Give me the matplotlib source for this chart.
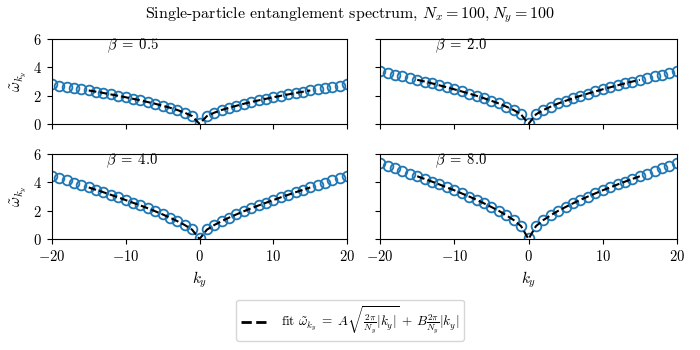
import numpy as np
import matplotlib
matplotlib.use("Agg")
import matplotlib.pyplot as plt

plt.rcParams['font.family'] = 'serif'
plt.rcParams['font.serif'] = ['cmr10']
plt.rcParams['mathtext.fontset'] = 'cm'
plt.rcParams['axes.formatter.use_mathtext'] = True
plt.rcParams['axes.unicode_minus'] = True

betas = [0.5, 2.0, 4.0, 8.0]

# spectrum values for k_y = 0..20 (symmetric in k_y)
omega_half = {
    0.5: [0.05, 0.55, 0.79, 0.98, 1.14, 1.28, 1.42, 1.54, 1.66, 1.77, 1.88,
          1.98, 2.08, 2.18, 2.27, 2.36, 2.45, 2.53, 2.62, 2.70, 2.78],
    2.0: [0.05, 0.68, 0.98, 1.22, 1.44, 1.63, 1.81, 1.98, 2.14, 2.29, 2.44,
          2.58, 2.72, 2.86, 2.99, 3.11, 3.24, 3.36, 3.48, 3.60, 3.72],
    4.0: [0.05, 0.72, 0.99, 1.26, 1.51, 1.74, 1.96, 2.17, 2.37, 2.56, 2.75,
          2.94, 3.12, 3.30, 3.47, 3.64, 3.81, 3.98, 4.15, 4.31, 4.47],
    8.0: [0.05, 0.93, 1.34, 1.68, 1.99, 2.26, 2.52, 2.77, 3.00, 3.22, 3.44,
          3.64, 3.85, 4.05, 4.24, 4.43, 4.62, 4.80, 4.98, 5.16, 5.33],
}
# fit curve values for |k_y| = 0..15
fit_half = {
    0.5: [0.0, 0.55, 0.79, 0.98, 1.14, 1.28, 1.42, 1.54, 1.66, 1.77, 1.88,
          1.98, 2.08, 2.18, 2.27, 2.36],
    2.0: [0.0, 0.67, 0.98, 1.22, 1.44, 1.63, 1.81, 1.98, 2.14, 2.29, 2.44,
          2.58, 2.72, 2.86, 2.99, 3.11],
    4.0: [0.0, 0.66, 0.99, 1.26, 1.51, 1.74, 1.96, 2.17, 2.37, 2.56, 2.75,
          2.94, 3.12, 3.30, 3.47, 3.64],
    8.0: [0.0, 0.91, 1.34, 1.68, 1.99, 2.26, 2.52, 2.77, 3.00, 3.22, 3.44,
          3.64, 3.85, 4.05, 4.24, 4.43],
}

def mirror(vals):
    vals = list(vals)
    return vals[:0:-1] + vals

k_data = np.arange(-20, 21)
k_fit = np.arange(-15, 16)

fig = plt.figure(figsize=(7, 3.5), dpi=100)
positions = [
    [0.074, 0.646, 0.422, 0.243],
    [0.543, 0.646, 0.424, 0.243],
    [0.074, 0.317, 0.422, 0.243],
    [0.543, 0.317, 0.424, 0.243],
]
axes = []
for i, b in enumerate(betas):
    ax = fig.add_axes(positions[i])
    axes.append(ax)
    ax.plot(k_data, mirror(omega_half[b]), 'o', ms=7, mfc='none',
            mec='#1f77b4', mew=1.3, zorder=2)
    line, = ax.plot(k_fit, mirror(fit_half[b]), '--', color='black', lw=1.5,
                    zorder=3)
    ax.set_xlim(-20, 20)
    ax.set_ylim(0, 6)
    ax.set_yticks([0, 2, 4, 6])
    ax.set_xticks([-20, -10, 0, 10, 20])
    ax.tick_params(labelsize=10.5)
    ax.text(0.273, 0.92, r'$\beta\;=\;%.1f$' % b, transform=ax.transAxes,
            ha='center', va='center', fontsize=10.5)
    if i < 2:
        ax.set_xticklabels([])
    else:
        ax.set_xlabel(r'$k_y$', fontsize=11)
    if i % 2 == 1:
        ax.set_yticklabels([])
    else:
        ax.set_ylabel(r'$\tilde{\omega}_{k_y}$', fontsize=11)

fig.suptitle(r'Single-particle entanglement spectrum, $N_x = 100, N_y = 100$',
             fontsize=11.5, y=0.985)
leg = fig.legend([line],
           [r'fit $\tilde{\omega}_{k_y}\;=\;A\sqrt{\frac{2\pi}{N_y}|k_y|}\,+\,B\frac{2\pi}{N_y}|k_y|$'],
           loc='lower center', bbox_to_anchor=(0.5, 0.008), fontsize=9.5,
           handlelength=2.2, borderpad=0.35)
leg.get_lines()[0].set_linewidth(2)

fig.savefig('out.png', dpi=100)
